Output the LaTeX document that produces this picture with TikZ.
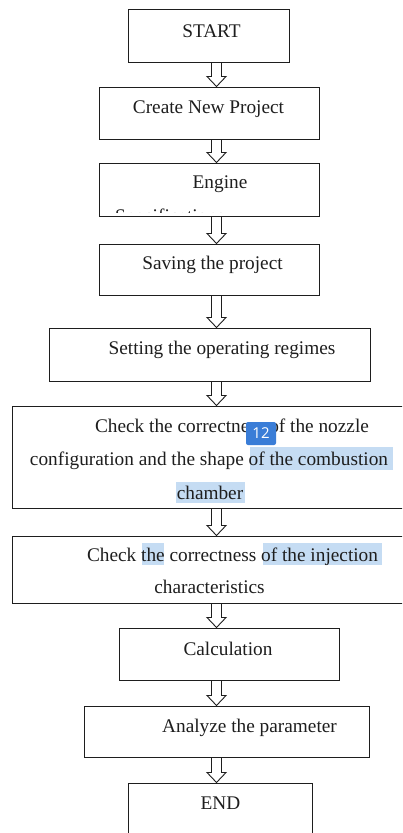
\documentclass[tikz,border=0pt]{standalone}
\usepackage{fontspec}
\setmainfont{Liberation Serif}
\newfontfamily\badgefont{Open Sans}
\usetikzlibrary{calc}
\definecolor{hl}{RGB}{197,220,243}
\definecolor{badgeblue}{RGB}{58,125,215}
\definecolor{ink}{RGB}{30,30,30}
\tikzset{
  box/.style={draw=ink, line width=1pt, rectangle, inner sep=0pt},
  txt/.style={anchor=base, inner sep=0pt, text=ink, font=\fontsize{19.3}{23}\selectfont},
  harrow/.style={draw=ink, line width=0.9pt, line join=miter},
  hlbox/.style={fill=hl},
}
\newcommand{\flowarrow}[2]{\path[harrow] let \p1=(#1.south), \p2=(#2.north) in
  (211.5pt,\y1) -- (211.5pt,\y2+10pt) -- (207pt,\y2+10pt) -- (216.5pt,\y2)
  -- (226pt,\y2+10pt) -- (221.5pt,\y2+10pt) -- (221.5pt,\y1);}
\begin{document}
\begin{tikzpicture}[x=1pt,y=-1pt]
\useasboundingbox (0,0) rectangle (402,833);
\clip (0,0) rectangle (402,833);
\fill[white] (0,0) rectangle (402,833);

% highlights
\fill[hlbox] (250,447) rectangle (393,470);
\fill[hlbox] (176,482) rectangle (245,503);
\fill[hlbox] (142,543) rectangle (164,565);
\fill[hlbox] (263,543) rectangle (382,565);

% boxes
\node[box, minimum width=161pt, minimum height=53pt] (start) at (208.5,35.5) {};
\node[box, minimum width=220pt, minimum height=52pt] (create) at (209,113) {};
\node[box, minimum width=220pt, minimum height=53pt] (engine) at (209,189.5) {};
\node[box, minimum width=220pt, minimum height=51pt] (saving) at (209,269.5) {};
\node[box, minimum width=321pt, minimum height=53pt] (setting) at (209.5,354.5) {};
\node[box, minimum width=400pt, minimum height=102pt] (nozzle) at (212,457) {};
\node[box, minimum width=400pt, minimum height=67pt] (inject) at (212,569.5) {};
\node[box, minimum width=220pt, minimum height=52pt] (calc) at (229,654) {};
\node[box, minimum width=285pt, minimum height=51pt] (analyze) at (226.5,731.5) {};
\node[box, minimum width=184pt, minimum height=60pt] (end) at (220,813) {};

% texts
\node[txt] (tstart) at (211.5,37) {START};
\node[txt] (tcreate) at (208.5,113) {Create New Project};
\node[txt] (tengine) at (220,188) {Engine};
\begin{scope}
  \clip (99,200) rectangle (319,212);
  \node[txt, anchor=base west] (tspec) at (115,222) {Specifications};
\end{scope}
\node[txt] (tsaving) at (212.5,269) {Saving the project};
\node[txt] (tsetting) at (222,354) {Setting the operating regimes};
\node[txt] (tnoz1) at (232,432) {Check the correctness of the nozzle};
\node[txt] (tnoz2) at (209,465) {configuration and the shape of the combustion};
\node[txt] (tnoz3) at (210,499) {chamber};
\node[txt] (tinj1) at (232.5,561) {Check the correctness of the injection};
\node[txt] (tinj2) at (209.5,593) {characteristics};
\node[txt] (tcalc) at (228,655) {Calculation};
\node[txt] (tanalyze) at (249.5,732) {Analyze the parameter};
\node[txt] (tend) at (220.5,809) {END};

% badge
\node[fill=badgeblue, rounded corners=2pt, minimum width=30pt, minimum height=23pt,
      inner sep=0pt, text=white, font=\badgefont\fontsize{15}{15}\selectfont]
      (badge) at (261,433.5) {12};

% arrows
\flowarrow{start}{create}
\flowarrow{create}{engine}
\flowarrow{engine}{saving}
\flowarrow{saving}{setting}
\flowarrow{setting}{nozzle}
\flowarrow{nozzle}{inject}
\flowarrow{inject}{calc}
\flowarrow{calc}{analyze}
\flowarrow{analyze}{end}
\end{tikzpicture}
\end{document}
